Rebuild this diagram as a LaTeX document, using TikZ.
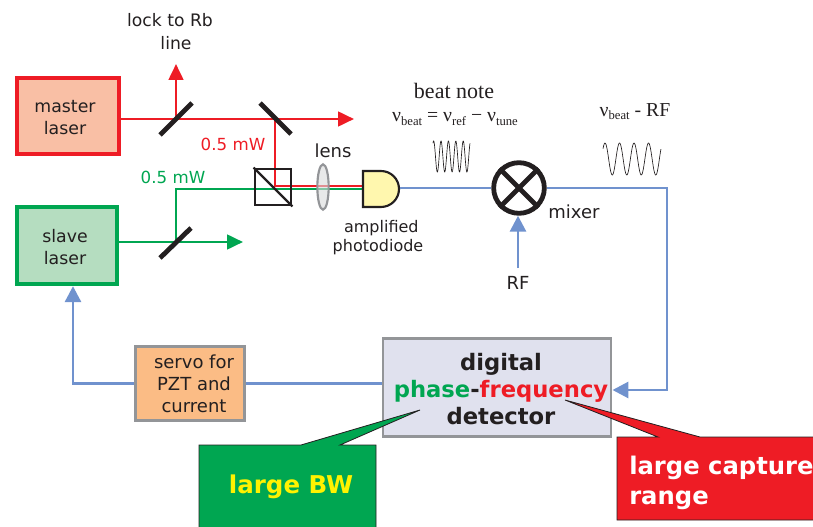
\documentclass[tikz,border=0pt]{standalone}
\usepackage{fontspec}
\setmainfont{DejaVu Sans}
\newfontfamily\serifnote{Liberation Serif}
\usetikzlibrary{arrows.meta,calc,shapes.geometric}
\definecolor{rd}{HTML}{EE1C25}
\definecolor{gn}{HTML}{00A651}
\definecolor{bl}{HTML}{7092CE}
\definecolor{gy}{HTML}{939598}
\definecolor{tx}{HTML}{231F20}
\definecolor{mfill}{HTML}{F9BFA5}
\definecolor{sfill}{HTML}{B5DDC0}
\definecolor{servofill}{HTML}{FBBC85}
\definecolor{pfill}{HTML}{E0E1EE}
\definecolor{pdfill}{HTML}{FFF7AE}
\tikzset{
 px/.style={x=0.75pt,y=-0.75pt},
 boxa/.style={draw,line width=3pt,inner sep=0pt},
 boxt/.style={inner sep=0pt,align=center,text=tx,font=\fontsize{13}{16.5}\selectfont},
 greybox/.style={draw=gy,line width=2.2pt,inner sep=0pt},
 redbeam/.style={draw=rd,line width=2pt},
 greenbeam/.style={draw=gn,line width=2pt},
 bluebeam/.style={draw=bl,line width=2.2pt},
 tip/.style={-{Triangle[length=12pt,width=11pt]}},
 mirror/.style={draw=tx,line width=3.6pt},
 lab/.style={text=tx,inner sep=0pt,align=center,font=\fontsize{13.5}{16}\selectfont},
 pwr/.style={inner sep=0pt,font=\fontsize{12.5}{15}\selectfont},
 note/.style={inner sep=0pt,text=tx,font=\serifnote\fontsize{14.8}{17}\selectfont},
 wave/.style={draw=tx,line width=0.5pt,smooth},
 call/.style={draw=tx,line width=0.6pt},
}
\newcommand{\nusub}[1]{ν\raisebox{-0.35ex}{\fontsize{9.5}{9.5}\selectfont #1}}
\begin{document}
\begin{tikzpicture}[px]
\useasboundingbox (0,0) rectangle (813,527);
% lasers
\node[boxa,draw=rd,fill=mfill,minimum width=77pt,minimum height=57pt] (master) at (68,116.5) {};
\node[boxt] (mastert) at (65,118) {master\\laser};
\node[boxa,draw=gn,fill=sfill,minimum width=75pt,minimum height=58pt] (slave) at (67,245.5) {};
\node[boxt] (slavet) at (65,247) {slave\\laser};
% junction coordinates
\coordinate (m1) at (176,119);
\coordinate (m2) at (275,119);
\coordinate (m3) at (176,242);
\coordinate (lock) at (176,64);
\coordinate (redend) at (354,119);
\coordinate (greenend) at (243,242);
\coordinate (rc) at (275,186);
\coordinate (gc) at (176,189);
% photodiode
\node[inner sep=0pt,minimum size=1pt] (pdin) at (363,188) {};
\node[inner sep=0pt,minimum size=1pt] (pdout) at (399,188) {};
% beams
\draw[redbeam,tip] (master.east |- m1) -- (redend);
\draw[redbeam,tip] (m1) -- (lock);
\draw[greenbeam,tip] (slave.east |- m3) -- (greenend);
\draw[greenbeam] (m3) -- (gc) -- (gc -| pdin);
\draw[redbeam] (m2) -- (rc) -- (rc -| pdin);
% mirrors
\draw[mirror] (160,135) -- (192,103);
\draw[mirror] (260,103) -- (291,134);
\draw[mirror] (160,258) -- (191,228);
% cube
\node[draw=tx,line width=1.6pt,minimum size=27.5pt,inner sep=0pt] (cube) at (273,187) {};
\draw[draw=tx,line width=1.6pt] (cube.north west) -- (cube.south east);
% lens
\node[draw=gy,line width=1.6pt,fill=gy!35!white,fill opacity=0.6,ellipse,minimum width=8.5pt,minimum height=34pt,inner sep=0pt] (lensbody) at (323,187) {};
\node[lab] (lens) at (333,151) {lens};
% photodiode body
\path[draw=tx,line width=1.6pt,fill=pdfill] (363,171) -- (381,171) arc[start angle=-90,end angle=90,radius=18] -- (363,207) -- cycle;
\node[lab,font=\fontsize{12}{14.5}\selectfont] (pdtext) at (378,237.5) {\hspace*{5pt}amplified\\photodiode};
% mixer
\node[circle,draw=tx,line width=3.6pt,minimum size=38pt,inner sep=0pt] (mix) at (519,188) {};
\draw[draw=tx,line width=3.6pt] (mix.north west) -- (mix.south east);
\draw[draw=tx,line width=3.6pt] (mix.north east) -- (mix.south west);
\node[lab] (mixer) at (574,212) {mixer};
\node[lab] (rf) at (518,283) {RF};
% boxes
\node[greybox,fill=servofill,minimum width=82pt,minimum height=55pt] (servo) at (190,383.5) {};
\node[boxt,font=\fontsize{13.5}{16.5}\selectfont] (servot) at (194,384) {servo for\\PZT and\\current};
\node[greybox,fill=pfill,minimum width=171pt,minimum height=73pt] (pfd) at (497,387.5) {};
\node[boxt,font=\bfseries\fontsize{17}{20.5}\selectfont] (pfdt) at (501,389) {digital\\{\color{gn}phase}-{\color{rd}frequency}\\detector};
% blue connectors
\coordinate (rfin) at (518,268);
\coordinate (corner) at (667,188);
\coordinate (pfdin) at (667,390);
\coordinate (slavein) at (73,383.5);
\draw[bluebeam] (pdout) -- (mix.west);
\draw[bluebeam,-{Triangle[length=12pt,width=12pt]}] (mix.east) -- (corner) -- (pfdin) -- (pfd.east |- pfdin);
\draw[bluebeam,-{Triangle[length=12pt,width=12pt]}] (rfin) -- (mix.south -| rfin);
\draw[bluebeam] (pfd.west |- servo) -- (servo.east);
\draw[bluebeam,-{Triangle[length=12pt,width=12pt]}] (servo.west) -- (slavein) -- (slavein |- slave.south);
% labels
\node[lab,font=\fontsize{12.9}{17.3}\selectfont] (lockt) at (170,31.5) {lock to Rb\\\hspace*{9pt}line};
\node[pwr,text=rd] (p1) at (233,144) {0.5 mW};
\node[pwr,text=gn] (p2) at (173,177) {0.5 mW};
\node[note,font=\serifnote\fontsize{16.5}{18}\selectfont] (beat) at (454,91) {beat note};
\node[note] (nu1) at (455,119) {\nusub{beat} = \nusub{ref} − \nusub{tune}};
\node[note] (nu2) at (635,112) {\nusub{beat} - RF};
% waves
\draw[wave] plot[domain=0:1,samples=120] ({433+37*\x},{156.5-15.5*sin(5*360*\x+60)});
\draw[wave] plot[domain=0:1,samples=100] ({603+58*\x},{159-16*sin(4*360*\x+40)});
% callouts
\coordinate (gtip) at (420,410);
\coordinate (rtip) at (565,400);
\path[fill=gn,call] (199,445) -- (301,445) -- (gtip) -- (340,445) -- (376,445) -- (376,528) -- (199,528) -- cycle;
\path[fill=rd,call] (617,437) -- (658,437) -- (rtip) -- (700,437) -- (814,437) -- (814,520) -- (617,520) -- cycle;
\node[inner sep=0pt,text=yellow,font=\bfseries\fontsize{18.4}{22}\selectfont] (bw) at (291,487) {large BW};
\node[inner sep=0pt,text=white,align=left,anchor=north west,font=\bfseries\fontsize{18.2}{22.5}\selectfont] (cap) at (629,456) {large capture\\range};
\end{tikzpicture}
\end{document}
